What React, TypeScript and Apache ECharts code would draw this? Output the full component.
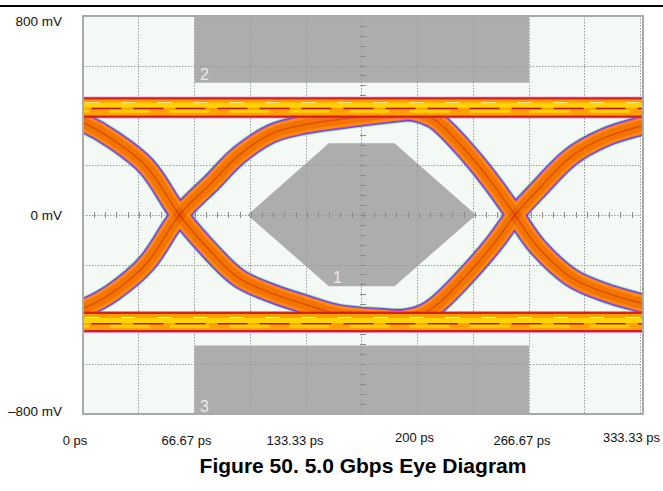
import React, { useEffect, useRef } from 'react';
import * as echarts from 'echarts';

const FONT = '"Liberation Sans", Arial, Helvetica, sans-serif';

// axes: time (ps) and voltage (mV)
const X_MAX = 1000 / 3;
const X_STEP = 100 / 3;
const Y_MIN = -800;
const Y_MAX = 800;
const Y_STEP = 200;

const xTickLabels = ['0 ps', '', '66.67 ps', '', '133.33 ps', '', '200 ps', '', '266.67 ps', '', '333.33 ps'];
const yTickValues = [800, 0, -800];
const yTickLabels = ['800 mV', '0 mV', '–800 mV'];

// eye traces, [ps, mV]
const fallingEdge1 = [
  [-40, 432], [-20, 422], [0, 372], [17.9, 303], [38.1, 194], [57.7, 0], [77.4, -154],
  [93.5, -255], [113.1, -315], [133.3, -360], [153, -398], [182.7, -416], [206.5, -426],
];
const risingEdge1 = [
  [-40, -432], [-20, -420], [0, -376], [17.9, -311], [38.1, -194], [57.7, 0], [77.4, 133],
  [93.5, 242], [113.1, 328], [133.3, 364], [153, 384], [176.8, 404], [200.6, 422],
];
const fallingEdge2 = [
  [165, 428], [185, 424], [200.6, 410], [212.5, 372], [232.1, 234], [246.4, 113], [258.3, 0],
  [272, -129], [291.7, -250], [311.9, -311], [332.7, -352], [355, -390],
];
const risingEdge2 = [
  [165, -428], [185, -422], [200.6, -404], [212.5, -356], [232.1, -222], [246.4, -109], [258.3, 0],
  [272, 101], [291.7, 234], [311.9, 311], [332.7, 356], [355, 395],
];

// settled logic levels and the streaks inside their bands, mV
const highLevel = [[-20, 432], [350, 432]];
const lowLevel = [[-20, -430], [350, -430]];
const highStreaks = [450, 441, 428, 417];
const lowStreaks = [-413, -424, -437, -447];

// eye mask regions, [ps, mV]
const maskTop = [[66.67, 800], [266.67, 800], [266.67, 532], [66.67, 532]];
const maskCenter = [[98.3, 0], [147, 288], [186.3, 288], [235, 0], [186.3, -286], [147, -286]];
const maskBottom = [[66.67, -525], [266.67, -525], [266.67, -800], [66.67, -800]];
const maskNames = ['2', '1', '3'];
const maskLabelAt = [[72.6, 564], [152.1, -252], [72.6, -771]];

const TITLE = 'Figure 50. 5.0 Gbps Eye Diagram';

const xLabelShift: Record<number, [number, number]> = {
  0: [-8, 3], 2: [-8, 3], 4: [-11, 3], 6: [-3, 0], 8: [-7, 3], 10: [-9, 0],
};
const yLabelShift = [10, 0, -6];

export default function App() {
  const ref = useRef<HTMLDivElement>(null);

  useEffect(() => {
    if (!ref.current) return;
    const chart = echarts.init(ref.current, undefined, { renderer: 'svg' });

    const GRID = { left: 83, top: 16, width: 560, height: 398 };
    const gridLine = { color: '#9c9c9c', type: [1.5, 1.5] as number[], width: 1 };
    const tickLine = { color: '#8a8a8a', width: 1 };

    const xRich: Record<string, any> = {};
    Object.keys(xLabelShift).forEach((k) => {
      const [dx, dy] = xLabelShift[Number(k)];
      xRich['x' + k] = {
        fontFamily: FONT, fontSize: 13, color: '#111',
        padding: [dy > 0 ? dy : 0, dx < 0 ? -2 * dx : 0, 0, dx > 0 ? 2 * dx : 0],
      };
    });
    const yRich: Record<string, any> = {};
    yLabelShift.forEach((s, i) => {
      yRich['y' + i] = {
        fontFamily: FONT, fontSize: 13.5, color: '#111',
        padding: [s > 0 ? s : 0, 0, s < 0 ? -s : 0, 0],
      };
    });

    const series: any[] = [];
    const masks = [maskTop, maskCenter, maskBottom];
    series.push({
      type: 'custom', xAxisIndex: 0, yAxisIndex: 0, z: 1, silent: true,
      data: masks.map((_, i) => [i]),
      renderItem: (_p: any, api: any) => {
        const m = masks[api.value(0)];
        return { type: 'polygon', shape: { points: m.map((pt) => api.coord(pt)) }, style: { fill: '#adadad' } };
      },
    });
    series.push({
      type: 'custom', xAxisIndex: 0, yAxisIndex: 0, z: 1, silent: true,
      data: maskNames.map((_, i) => [i]),
      renderItem: (_p: any, api: any) => {
        const i = api.value(0);
        const c = api.coord(maskLabelAt[i]);
        return {
          type: 'text', x: c[0], y: c[1],
          style: { text: maskNames[i], fill: '#e9e9e9', fontSize: 16, fontFamily: FONT, align: 'center', verticalAlign: 'middle' },
        };
      },
    });

    const edges = [fallingEdge1, risingEdge1, fallingEdge2, risingEdge2];
    const line = (data: number[][], style: any, z: number) => ({
      type: 'line', xAxisIndex: 0, yAxisIndex: 0, data, z, silent: true,
      symbol: 'none', showSymbol: false, smooth: 0.35, clip: true,
      lineStyle: { cap: 'butt', join: 'round', ...style },
    });

    const fringeLayers = [
      { width: 22, color: 'rgba(96,214,96,0.4)' },
      { width: 20, color: '#3b3be6', opacity: 0.85 },
      { width: 18, color: '#dc3cdc', opacity: 0.8 },
    ];
    const bodyLayers = [
      { width: 16, color: '#ff8c00' },
      { width: 11, color: '#d64000', opacity: 0.3 },
      { width: 1.5, color: '#b41000', opacity: 0.35 },
    ];
    const levelLayers = [
      { width: 22, color: 'rgba(214,60,200,0.4)' },
      { width: 20.5, color: '#d62020' },
      { width: 16, color: '#ffa000' },
    ];
    const streakStyles = [
      { width: 1.5, color: '#ffffff', type: [14, 22] },
      { width: 5, color: '#ffd400' },
      { width: 1.5, color: '#c41010', type: [30, 12] },
      { width: 3, color: '#ffd000', type: [40, 20] },
    ];

    let z = 3;
    fringeLayers.forEach((st) => { edges.forEach((e) => series.push(line(e, st, z))); z++; });
    bodyLayers.forEach((st) => { edges.forEach((e) => series.push(line(e, st, z))); z++; });
    levelLayers.forEach((st) => { [highLevel, lowLevel].forEach((l) => series.push(line(l, st, z))); z++; });
    streakStyles.forEach((st, i) => {
      series.push(line(highLevel.map((p) => [p[0], highStreaks[i]]), st, z));
      series.push(line(lowLevel.map((p) => [p[0], lowStreaks[i]]), st, z));
    });

    const centreAxisX = (gridIndex: number, inside: boolean) => ({
      gridIndex, type: 'value', min: -X_MAX / 2, max: X_MAX / 2, interval: X_STEP, z: 2,
      axisLine: { show: true, onZero: true, lineStyle: { color: 'rgba(0,0,0,0)' } },
      axisTick: { show: true, inside, length: 3, lineStyle: tickLine },
      minorTick: { show: true, splitNumber: 5, length: 3, lineStyle: tickLine },
      axisLabel: { show: false }, splitLine: { show: false },
    });
    const centreAxisY = (gridIndex: number, inside: boolean) => ({
      gridIndex, type: 'value', min: Y_MIN, max: Y_MAX, interval: Y_STEP, z: 2,
      axisLine: { show: true, onZero: true, lineStyle: { color: 'rgba(0,0,0,0)' } },
      axisTick: { show: true, inside, length: 3, lineStyle: tickLine },
      minorTick: { show: true, splitNumber: 5, length: 3, lineStyle: tickLine },
      axisLabel: { show: false }, splitLine: { show: false },
    });

    const g = GRID;
    chart.setOption({
      animation: false,
      grid: [
        { ...GRID, show: true, backgroundColor: '#f4f9f5', borderWidth: 0, z: 0 },
        { ...GRID },
        { ...GRID },
      ],
      xAxis: [
        {
          gridIndex: 0, type: 'value', min: 0, max: X_MAX, interval: X_STEP, position: 'bottom', z: 2,
          axisLine: { show: false, onZero: false }, axisTick: { show: false },
          splitLine: { show: true, lineStyle: gridLine },
          axisLabel: {
            margin: 17, showMinLabel: true, showMaxLabel: true,
            fontFamily: FONT, fontSize: 13, color: '#111',
            formatter: (v: number) => {
              const i = Math.round(v / X_STEP);
              const t = xTickLabels[i] || '';
              return t ? `{x${i}|${t}}` : '';
            },
            rich: xRich,
          },
        },
        centreAxisX(1, true),
        centreAxisX(2, false),
      ],
      yAxis: [
        {
          gridIndex: 0, type: 'value', min: Y_MIN, max: Y_MAX, interval: Y_STEP, z: 2,
          axisLine: { show: false, onZero: false }, axisTick: { show: false },
          splitLine: { show: true, lineStyle: gridLine },
          axisLabel: {
            margin: 21, showMinLabel: true, showMaxLabel: true,
            fontFamily: FONT, fontSize: 13.5, color: '#111',
            formatter: (v: number) => {
              const i = yTickValues.indexOf(Math.round(v));
              return i >= 0 ? `{y${i}|${yTickLabels[i]}}` : '';
            },
            rich: yRich,
          },
        },
        centreAxisY(1, true),
        centreAxisY(2, false),
      ],
      graphic: [
        // white margins hide the parts of the traces that spill past the plot frame
        { type: 'rect', z: 100, silent: true, shape: { x: g.left - 18, y: g.top - 12, width: 17, height: g.height + 24 }, style: { fill: '#fff' } },
        { type: 'rect', z: 100, silent: true, shape: { x: g.left + g.width + 1, y: g.top - 12, width: 24, height: g.height + 24 }, style: { fill: '#fff' } },
        { type: 'rect', z: 100, silent: true, shape: { x: g.left - 18, y: g.top - 9, width: g.width + 44, height: 8 }, style: { fill: '#fff' } },
        { type: 'rect', z: 100, silent: true, shape: { x: g.left - 18, y: g.top + g.height + 1, width: g.width + 44, height: 8 }, style: { fill: '#fff' } },
        { type: 'rect', z: 101, silent: true, shape: { x: g.left, y: g.top, width: g.width, height: g.height }, style: { fill: 'none', stroke: '#a9aba9', lineWidth: 2 } },
        { type: 'line', z: 101, shape: { x1: 0, y1: 6, x2: 663, y2: 6 }, style: { stroke: '#000', lineWidth: 2 }, silent: true },
        {
          type: 'text', x: 363, y: 465, silent: true, z: 101,
          style: { text: TITLE, fill: '#000', font: `bold 21px ${FONT}`, align: 'center', verticalAlign: 'middle' },
        },
      ],
      series,
    });

    return () => chart.dispose();
  }, []);

  return <div ref={ref} style={{ position: 'absolute', left: 0, top: 0, width: 663, height: 491, background: '#fff' }} />;
}
